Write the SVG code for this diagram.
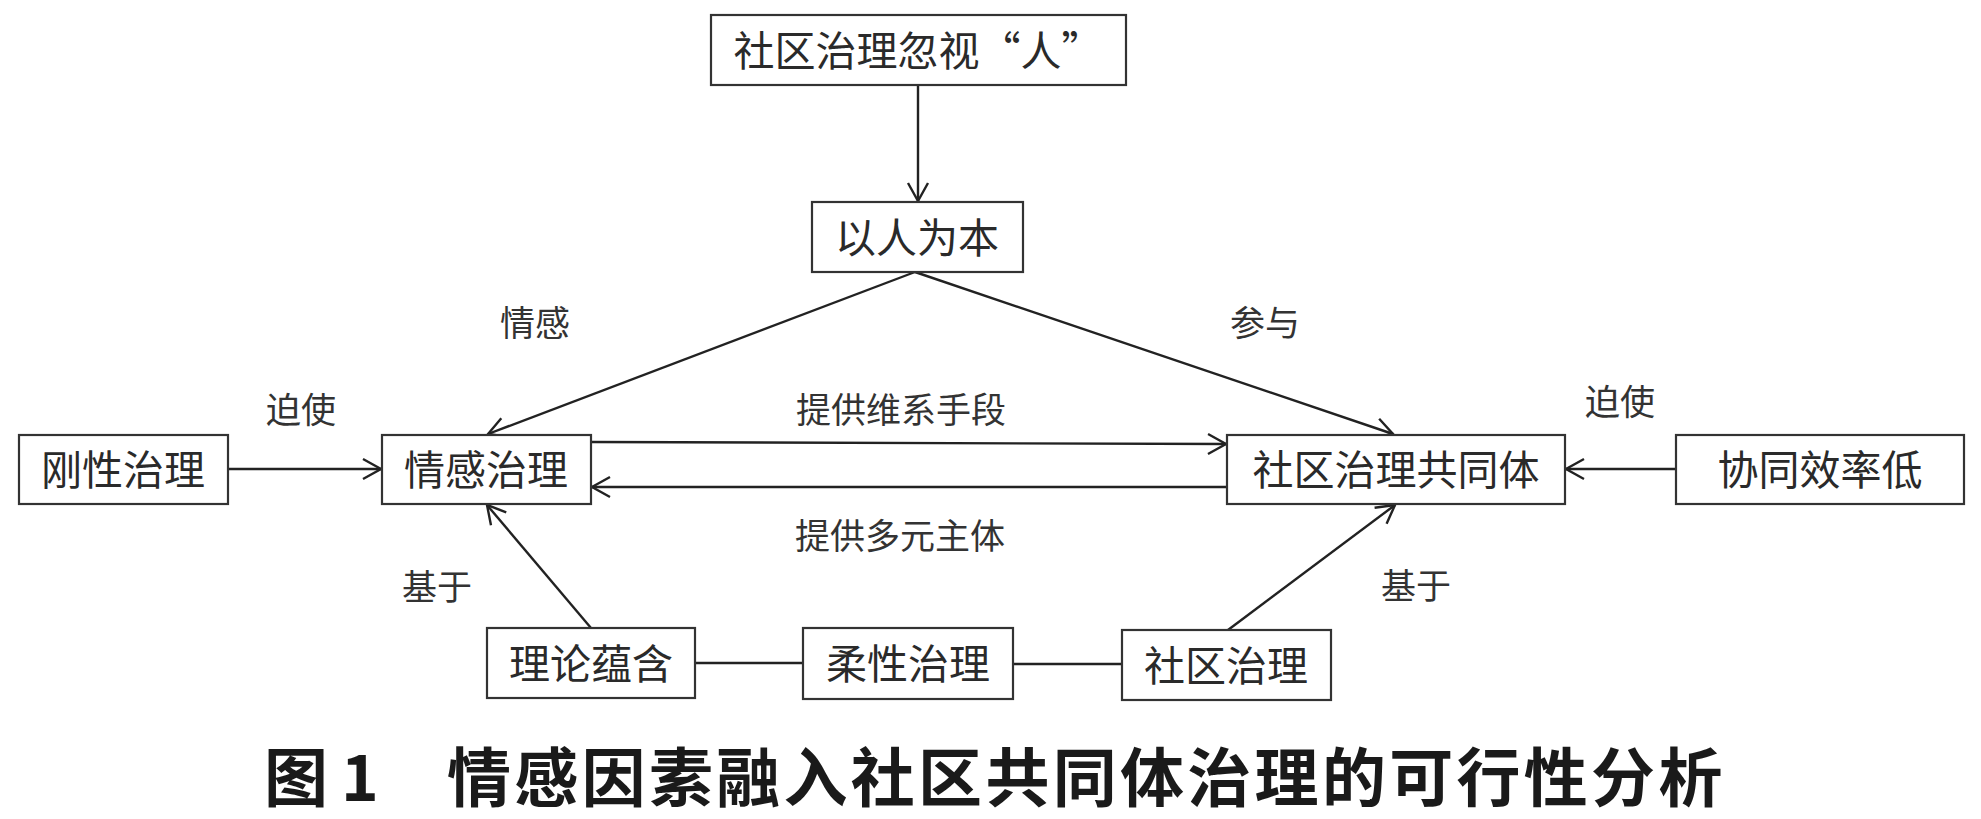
<svg xmlns="http://www.w3.org/2000/svg" width="1981" height="819" viewBox="0 0 1981 819">
<style>
.box{fill:#fff;stroke:#333;stroke-width:2.2}
.t{font-family:"Noto Sans CJK SC","Noto Sans CJK JP",sans-serif;font-size:41px;fill:#2a2a2a;text-anchor:middle}
.l{font-family:"Noto Sans CJK SC","Noto Sans CJK JP",sans-serif;font-size:35px;fill:#333;text-anchor:middle}
.c{stroke:#222;stroke-width:2.4;fill:none}
.cap{font-family:"Noto Sans CJK SC","Noto Sans CJK JP",sans-serif;font-size:64px;font-weight:bold;fill:#1a1a1a}
</style>
<defs>
<marker id="arr" viewBox="-20 -12 22 24" refX="0" refY="0" markerWidth="22" markerHeight="24" markerUnits="userSpaceOnUse" orient="auto">
<path d="M-18,-10 L0,0 L-18,10" fill="none" stroke="#222" stroke-width="2.4"/>
</marker>
</defs>
<rect width="1981" height="819" fill="#fff"/>
<g id="connectors">
<line class="c" x1="918" y1="85" x2="918" y2="201" marker-end="url(#arr)"/>
<line class="c" x1="915" y1="272" x2="488" y2="434" marker-end="url(#arr)"/>
<line class="c" x1="915" y1="272" x2="1393" y2="434" marker-end="url(#arr)"/>
<line class="c" x1="228" y1="469" x2="381" y2="469" marker-end="url(#arr)"/>
<line class="c" x1="1676" y1="469" x2="1566" y2="469" marker-end="url(#arr)"/>
<line class="c" x1="591" y1="442" x2="1226" y2="444" marker-end="url(#arr)"/>
<line class="c" x1="1227" y1="487" x2="592" y2="487" marker-end="url(#arr)"/>
<line class="c" x1="591" y1="628" x2="487" y2="505" marker-end="url(#arr)"/>
<line class="c" x1="1228" y1="630" x2="1395" y2="505" marker-end="url(#arr)"/>
<line class="c" x1="695" y1="663" x2="803" y2="663"/>
<line class="c" x1="1013" y1="664" x2="1122" y2="664"/>
</g>
<g id="labels">
<text class="l" x="535" y="336">情感</text>
<text class="l" x="1265" y="336">参与</text>
<text class="l" x="301" y="423">迫使</text>
<text class="l" x="1620" y="415">迫使</text>
<text class="l" x="901" y="423">提供维系手段</text>
<text class="l" x="900" y="549">提供多元主体</text>
<text class="l" x="437" y="600">基于</text>
<text class="l" x="1416" y="599">基于</text>
</g>
<g id="n1"><rect class="box" x="711" y="15" width="415" height="70"/><text class="t" x="918" y="66">社区治理忽视“人”</text></g>
<g id="n2"><rect class="box" x="812" y="202" width="211" height="70"/><text class="t" x="917" y="253">以人为本</text></g>
<g id="n3"><rect class="box" x="19" y="435" width="209" height="69"/><text class="t" x="123" y="485">刚性治理</text></g>
<g id="n4"><rect class="box" x="382" y="435" width="209" height="69"/><text class="t" x="486" y="485">情感治理</text></g>
<g id="n5"><rect class="box" x="1227" y="435" width="338" height="69"/><text class="t" x="1396" y="485">社区治理共同体</text></g>
<g id="n6"><rect class="box" x="1676" y="435" width="288" height="69"/><text class="t" x="1820" y="485">协同效率低</text></g>
<g id="n7"><rect class="box" x="487" y="628" width="208" height="70"/><text class="t" x="591" y="679">理论蕴含</text></g>
<g id="n8"><rect class="box" x="803" y="628" width="210" height="71"/><text class="t" x="908" y="679">柔性治理</text></g>
<g id="n9"><rect class="box" x="1122" y="630" width="209" height="70"/><text class="t" x="1226" y="681">社区治理</text></g>
<g id="caption">
<text class="cap" x="264" y="801">图</text>
<text class="cap" x="360" y="801" text-anchor="middle">1</text>
<text class="cap" x="447" y="801" letter-spacing="3.3">情感因素融入社区共同体治理的可行性分析</text>
</g>
</svg>
